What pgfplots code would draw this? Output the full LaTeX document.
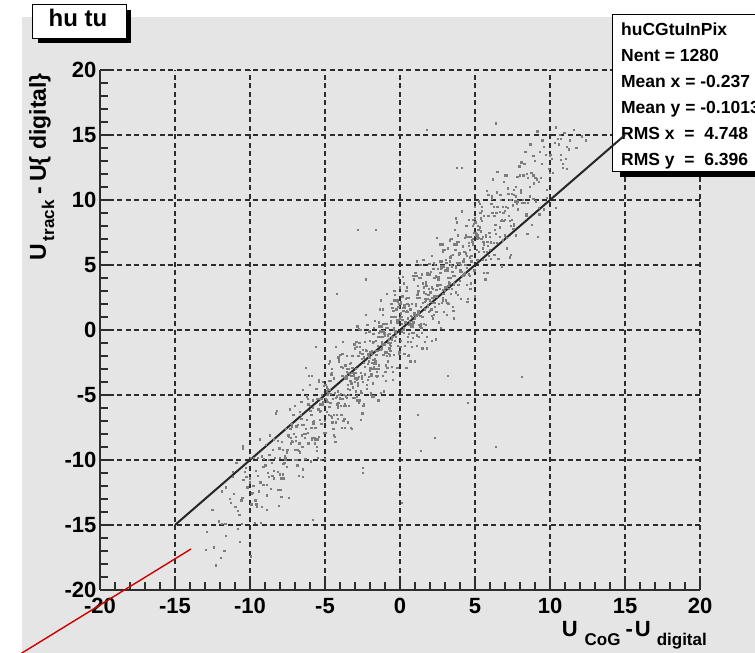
\documentclass[border=0pt]{standalone}
\usepackage{pgfplots}
\pgfplotsset{compat=1.18}
\usepackage{fontspec}
\setmainfont{Liberation Sans}
\definecolor{canvas}{RGB}{229,229,229}
\definecolor{gridc}{RGB}{45,45,45}
\definecolor{framec}{RGB}{45,45,45}
\definecolor{dotc}{RGB}{125,125,125}
\definecolor{annot}{RGB}{205,0,0}

\begin{document}
\begin{tikzpicture}
\useasboundingbox (0pt,0pt) rectangle (755pt,653pt);
\clip (0pt,0pt) rectangle (755pt,653pt);
\fill[white] (0pt,0pt) rectangle (755pt,653pt);
\fill[canvas] (22pt,0pt) rectangle (755pt,636pt);

\begin{axis}[
  at={(100pt,63pt)}, anchor=south west,
  scale only axis, width=600pt, height=520pt,
  xmin=-20, xmax=20, ymin=-20, ymax=20,
  axis x line*=bottom, axis y line*=left,
  clip=false,
  xtick={-20,-15,...,20}, ytick={-20,-15,...,20},
  xticklabels={-20,-15,-10,-5,0,5,10,15,20},
  yticklabels={-20,-15,-10,-5,0,5,10,15,20},
  minor tick num=4,
  tick align=inside,
  major tick length=14pt, minor tick length=8pt,
  tick style={framec, line width=1.1pt},
  axis line style={framec, line width=1.4pt},
  grid=major,
  major grid style={gridc, line width=1.2pt, dash pattern=on 5pt off 3.5pt},
  ticklabel style={font=\fontsize{22}{22}\selectfont\bfseries},
  xticklabel style={yshift=-5pt},
]

% hits: CoG residual vs track residual
\addplot[only marks, mark=square*, mark size=0.65pt, dotc, mark options={draw=none, fill=dotc}] coordinates {
(-12.88,-15.5) (-12.43,-16.7)
(-11.17,-11.3) (-11.66,-14.9) (-11.09,-12.6) (-11.95,-17.5)
(-10.34,-10.9) (-10.72,-14.2) (-10.53,-12.9) (-10.26,-11.3) (-10.81,-15.3) (-10.04,-11.7) (-10.59,-13.1)
(-9.37,-8.4) (-9.92,-13.4) (-9.48,-11.2) (-9.13,-11.9) (-9.77,-9.8) (-9.30,-14.8) (-9.62,-10.8) (-9.85,-12.5) (-9.21,-9.7) (-9.56,-13.6)
(-8.01,-9.8) (-8.69,-8.1) (-8.40,-11.4) (-8.98,-10.4) (-8.15,-12.3) (-8.51,-9.2) (-8.83,-11.0) (-8.27,-6.4) (-8.64,-12.2) (-8.06,-9.1) (-8.74,-11.3) (-8.42,-8.4) (-8.89,-13.8)
(-7.19,-8.6) (-7.55,-10.5) (-7.33,-7.6) (-7.79,-10.3) (-7.88,-8.6) (-7.43,-12.9) (-7.17,-6.5) (-7.66,-9.8) (-7.09,-8.0) (-7.95,-11.4) (-7.34,-6.1) (-7.72,-10.2) (-7.53,-9.2) (-7.26,-7.2) (-7.81,-9.2) (-7.04,-10.0)
(-6.59,-5.5) (-6.37,-8.3) (-6.92,-7.4) (-6.48,-10.7) (-6.13,-5.7) (-6.77,-9.3) (-6.30,-7.6) (-6.62,-6.8) (-6.85,-10.4) (-6.21,-6.9) (-6.56,-8.1) (-6.01,-4.2) (-6.69,-9.4) (-6.40,-7.3) (-6.98,-9.2) (-6.15,-5.3) (-6.51,-11.3) (-6.83,-7.3) (-6.27,-8.0) (-6.64,-6.5)
(-5.06,-7.9) (-5.74,-7.0) (-5.42,-4.0) (-5.89,-8.3) (-5.19,-5.7) (-5.55,-9.0) (-5.33,-5.3) (-5.79,-7.2) (-5.88,-3.5) (-5.43,-8.2) (-5.17,-5.5) (-5.66,-7.5) (-5.09,-4.3) (-5.95,-10.1) (-5.34,-6.3) (-5.72,-8.3) (-5.53,-5.3) (-5.26,-7.2) (-5.81,-6.0) (-5.04,-9.9) (-5.59,-4.5) (-5.37,-6.9) (-5.92,-6.5) (-5.48,-8.4)
(-4.13,-2.1) (-4.77,-6.5) (-4.30,-5.2) (-4.62,-3.9) (-4.85,-5.5) (-4.21,-6.5) (-4.56,-3.0) (-4.01,-5.3) (-4.69,-4.6) (-4.40,-8.1) (-4.98,-4.2) (-4.15,-6.0) (-4.51,-5.3) (-4.83,-4.5) (-4.27,-7.1) (-4.64,-4.9) (-4.06,-5.0) (-4.74,-2.6) (-4.42,-6.5) (-4.89,-5.4) (-4.19,-5.7) (-4.55,-3.3) (-4.33,-8.6) (-4.79,-4.8) (-4.88,-6.3) (-4.43,-3.7) (-4.17,-6.8) (-4.66,-5.6) (-4.09,-2.3)
(-3.95,-5.8) (-3.34,-3.4) (-3.72,-6.8) (-3.53,-3.0) (-3.26,-4.1) (-3.81,-0.9) (-3.04,-5.2) (-3.59,-3.5) (-3.37,-4.6) (-3.92,-2.8) (-3.48,-7.1) (-3.13,-3.5) (-3.77,-5.8) (-3.30,-2.5) (-3.62,-5.1) (-3.85,-3.5) (-3.21,-7.6) (-3.56,-2.0) (-3.01,-4.0) (-3.69,-3.7) (-3.40,-5.8) (-3.98,-1.9) (-3.15,-4.4) (-3.51,-4.2) (-3.83,-2.9) (-3.27,-3.5) (-3.64,-5.8) (-3.06,-1.1) (-3.74,-5.0) (-3.42,-3.0) (-3.89,-7.5) (-3.19,-2.0) (-3.55,-5.2) (-3.33,-3.9)
(-2.79,-2.0) (-2.88,-5.4) (-2.43,-2.1) (-2.17,-2.6) (-2.66,0.0) (-2.09,-3.6) (-2.95,-3.0) (-2.34,-3.4) (-2.72,-1.0) (-2.53,-6.4) (-2.26,-1.6) (-2.81,-3.7) (-2.04,-0.8) (-2.59,-4.8) (-2.37,-2.8) (-2.92,-0.9) (-2.48,-4.0) (-2.13,-1.9) (-2.77,-5.6) (-2.30,-1.5) (-2.62,-3.3) (-2.85,0.3) (-2.21,-4.2) (-2.56,-2.2) (-2.01,-2.9) (-2.69,-1.3) (-2.40,-5.7) (-2.98,-3.3) (-2.15,-3.8) (-2.51,-1.5) (-2.83,-4.1) (-2.27,-1.5) (-2.64,-6.9) (-2.06,-0.1) (-2.74,-3.6) (-2.42,-2.1) (-2.89,-5.1) (-2.19,0.4) (-2.55,-3.7)
(-1.33,-1.5) (-1.79,-0.3) (-1.88,-1.8) (-1.43,-3.0) (-1.17,1.2) (-1.66,-2.4) (-1.09,-0.1) (-1.95,-5.0) (-1.34,0.3) (-1.72,-3.0) (-1.53,-1.6) (-1.26,-0.1) (-1.81,-4.1) (-1.04,-0.4) (-1.59,-1.9) (-1.37,1.6) (-1.92,-3.4) (-1.48,-1.2) (-1.13,-1.9) (-1.77,0.2) (-1.30,-4.8) (-1.62,-0.8) (-1.85,-2.5) (-1.21,0.3) (-1.56,-3.6) (-1.01,-1.1) (-1.69,0.7) (-1.40,-2.7) (-1.98,-1.7) (-1.15,-3.5) (-1.51,-0.5) (-1.83,-2.3) (-1.27,2.3) (-1.64,-3.5) (-1.06,-0.3) (-1.74,-2.6) (-1.42,0.3) (-1.89,-5.1) (-1.19,-1.1) (-1.55,-3.0) (-1.36,-0.1) (-1.76,-2.8) (-1.84,-1.0) (-1.45,-5.4)
(-0.17,2.3) (-0.66,-1.0) (-0.09,0.8) (-0.95,-2.7) (-0.34,2.7) (-0.72,-1.4) (-0.53,-0.5) (-0.26,1.6) (-0.81,-0.4) (-0.04,-1.3) (-0.59,2.0) (-0.37,-0.8) (-0.92,0.2) (-0.48,-3.2) (-0.13,1.8) (-0.77,-1.8) (-0.30,-0.1) (-0.62,0.7) (-0.85,-2.9) (-0.21,0.6) (-0.56,-0.6) (-0.01,3.3) (-0.69,-1.9) (-0.40,0.2) (-0.98,-1.7) (-0.15,2.2) (-0.51,-3.8) (-0.83,0.2) (-0.27,-0.5) (-0.64,1.0) (-0.06,-1.7) (-0.74,-0.7) (-0.42,2.3) (-0.89,-2.0) (-0.19,0.6) (-0.55,-2.8) (-0.33,1.0) (-0.79,-1.0) (-0.88,2.8) (-0.43,-1.9) (-0.20,0.8) (-0.63,-1.2) (-0.11,2.0) (-0.97,-3.9) (-0.36,-0.1) (-0.70,-2.0) (-0.50,1.0)
(0.74,0.3) (0.19,1.5) (0.96,-2.4) (0.41,3.0) (0.63,0.6) (0.08,1.0) (0.52,-0.9) (0.87,4.2) (0.23,-0.2) (0.70,1.1) (0.38,2.4) (0.15,0.8) (0.79,-0.2) (0.44,3.3) (0.99,0.9) (0.31,1.7) (0.60,-1.9) (0.02,2.0) (0.85,0.3) (0.49,0.9) (0.17,1.7) (0.73,-0.9) (0.36,1.4) (0.94,1.3) (0.26,3.6) (0.58,-0.3) (0.11,0.8) (0.81,0.5) (0.45,3.0) (0.67,-2.4) (0.21,1.5) (0.12,-0.1) (0.57,2.5) (0.83,-0.6) (0.34,0.6) (0.91,3.9) (0.05,-0.8) (0.66,1.6) (0.28,-1.8) (0.47,2.0) (0.77,1.0) (0.16,4.1) (0.93,-0.2) (0.43,1.5) (0.61,0.4) (0.06,2.2) (0.55,-2.0)
(1.87,2.7) (1.23,0.4) (1.70,3.7) (1.38,1.1) (1.15,2.7) (1.79,-1.4) (1.44,4.3) (1.99,2.3) (1.31,2.5) (1.60,0.5) (1.02,4.4) (1.85,1.8) (1.49,2.1) (1.17,3.4) (1.73,2.8) (1.36,0.5) (1.94,5.1) (1.26,1.3) (1.58,3.3) (1.11,-1.2) (1.81,4.3) (1.45,1.0) (1.67,2.4) (1.21,3.0) (1.12,-0.4) (1.57,2.9) (1.83,2.4) (1.34,5.0) (1.91,1.4) (1.05,2.0) (1.66,1.6) (1.28,4.0) (1.47,-1.4) (1.74,3.4) (1.19,1.3) (1.96,4.3) (1.41,0.2) (1.63,2.2) (1.08,4.2) (1.52,1.0) (1.89,3.2) (1.25,-0.5) (1.72,3.6) (1.40,1.8) (1.13,5.3)
(2.79,2.1) (2.44,4.1) (2.99,3.3) (2.31,5.0) (2.60,0.6) (2.02,2.9) (2.85,2.5) (2.49,4.7) (2.17,2.1) (2.73,4.7) (2.36,-0.7) (2.94,6.2) (2.26,2.6) (2.58,4.1) (2.11,1.1) (2.81,6.6) (2.45,2.6) (2.67,3.5) (2.21,4.7) (2.12,3.3) (2.57,2.0) (2.83,6.2) (2.34,2.6) (2.91,4.9) (2.05,0.0) (2.66,5.3) (2.28,2.1) (2.47,3.4) (2.74,4.9) (2.19,0.9) (2.96,4.6) (2.41,3.1) (2.63,6.6) (2.08,1.6) (2.52,3.9) (2.87,3.1) (2.23,5.2) (2.70,0.2) (2.38,4.2) (2.15,2.5) (2.76,5.3) (2.42,1.4)
(3.99,5.2) (3.31,6.9) (3.60,3.6) (3.02,4.6) (3.85,2.7) (3.49,5.8) (3.17,4.0) (3.73,8.6) (3.36,2.8) (3.94,5.9) (3.26,3.7) (3.58,6.6) (3.11,1.2) (3.81,5.2) (3.45,3.2) (3.67,6.2) (3.21,3.4) (3.12,5.2) (3.57,0.9) (3.83,7.3) (3.34,4.0) (3.91,5.8) (3.05,2.3) (3.66,7.7) (3.28,3.6) (3.47,4.5) (3.74,6.6) (3.19,4.6) (3.96,3.8) (3.41,7.0) (3.63,4.2) (3.08,5.2) (3.52,1.8) (3.87,6.8) (3.23,3.2) (3.70,4.9) (3.38,5.7) (3.15,2.1)
(4.79,6.9) (4.44,5.7) (4.99,9.5) (4.31,4.4) (4.60,6.5) (4.02,4.5) (4.85,8.5) (4.49,2.4) (4.17,6.4) (4.73,5.7) (4.36,7.3) (4.94,4.6) (4.26,5.5) (4.58,8.5) (4.11,4.2) (4.81,6.8) (4.45,3.5) (4.67,7.2) (4.21,5.3) (4.12,9.1) (4.57,4.3) (4.83,7.0) (4.34,5.0) (4.91,8.2) (4.05,2.4) (4.66,6.2) (4.28,4.3) (4.47,7.2) (4.74,5.3) (4.19,6.5) (4.96,2.6) (4.41,8.0) (4.63,5.6)
(5.08,7.3) (5.52,5.4) (5.87,10.4) (5.23,6.0) (5.70,7.3) (5.38,8.6) (5.15,7.0) (5.79,6.0) (5.44,9.5) (5.99,7.2) (5.31,7.9) (5.60,4.4) (5.02,8.3) (5.85,6.5) (5.49,7.2) (5.17,8.0) (5.73,5.4) (5.36,7.6) (5.94,7.5) (5.26,9.9) (5.58,6.0) (5.11,7.1) (5.81,6.8) (5.45,9.2) (5.67,3.9) (5.21,7.7) (5.12,6.2) (5.57,8.8)
(6.83,6.9) (6.34,8.1) (6.91,11.4) (6.05,6.7) (6.66,9.1) (6.28,5.8) (6.47,9.5) (6.74,8.4) (6.19,11.6) (6.96,7.3) (6.41,9.0) (6.63,7.9) (6.08,9.7) (6.52,5.5) (6.87,9.0) (6.23,6.7) (6.70,10.0) (6.38,7.4) (6.15,9.0) (6.79,4.9) (6.44,10.6) (6.99,8.5) (6.31,8.8)
(7.60,8.0) (7.02,11.9) (7.85,9.3) (7.49,9.6) (7.17,10.9) (7.73,10.3) (7.36,8.0) (7.94,12.6) (7.26,8.8) (7.58,10.8) (7.11,6.3) (7.81,11.8) (7.45,8.5) (7.67,9.9) (7.21,10.5) (7.12,7.1) (7.57,10.4) (7.83,9.9)
(8.34,13.7) (8.91,10.1) (8.05,10.8) (8.66,10.3) (8.28,12.8) (8.47,7.4) (8.74,12.1) (8.19,10.0) (8.96,13.0) (8.41,8.9) (8.63,11.0) (8.08,12.9) (8.52,9.8) (8.87,11.9)
(9.23,9.4) (9.70,13.5) (9.38,11.7) (9.15,15.3) (9.79,10.8) (9.44,12.8) (9.99,12.1) (9.31,13.7) (9.60,9.3) (9.02,11.7)
(10.85,12.5) (10.49,14.7) (10.17,12.1) (10.73,14.7) (10.36,9.4) (10.94,15.2)
(11.26,13.9) (11.58,15.4) (11.11,12.4) (12.40,14.6)
(6.4,15.9) (1.8,15.4) (4.1,12.5) (3.8,12.5) (-2.8,7.7) (-1.6,7.7) (-4.2,2.8) (-2.3,3.9) (-5.1,6.2) (9.2,7.2) (7.3,5.6) (3.2,-3.5) (8.1,-3.6) (4.5,-5.6) (2.3,-8.3) (6.4,-9.0) (1.2,-6.5) (1.4,-9.3) (-2.5,-10.6) (-5.6,-1.3) (-6.3,-2.9) (-10.5,-9.1) (-12.3,-18.1) (-9.95,-17.4) (0.1,-13.3) (-5.8,-14.6) (-2.5,-11.0) (-11.9,-12.4) (-11.6,-12.1) (-10.5,-8.9) (11.6,15.4) (10.7,13.5) (10.3,14.4) (10.6,14.3) (11.1,14.1)
(-12.95,-16.9) (-12.52,-13.8) (-12.09,-14.7)
(-11.73,-17.0) (-11.36,-13.0) (-11.87,-14.9) (-11.14,-10.9) (-11.61,-15.8) (-11.28,-13.3)
(-10.98,-13.6) (-10.45,-11.5) (-10.69,-16.3) (-10.03,-11.4) (-10.82,-13.9) (-10.31,-10.6) (-10.56,-14.9) (-10.19,-12.1) (-10.92,-10.2)
(-9.41,-12.4) (-9.65,-13.1) (-9.07,-9.9) (-9.78,-12.0) (-9.24,-13.6) (-9.49,-9.8) (-9.88,-12.6) (-9.12,-10.5) (-9.58,-13.4) (-9.97,-9.8) (-9.33,-11.7) (-9.71,-14.8)
(-8.16,-8.5) (-8.54,-10.2) (-8.89,-11.9) (-8.22,-6.2) (-8.43,-10.8) (-8.76,-10.0) (-8.03,-11.1) (-8.95,-8.8) (-8.52,-11.2) (-8.09,-13.5) (-8.73,-9.6) (-8.36,-9.8) (-8.87,-12.7) (-8.14,-10.9)
(-7.61,-7.6) (-7.28,-8.7) (-7.98,-12.3) (-7.45,-8.1) (-7.69,-9.7) (-7.03,-5.8) (-7.82,-11.1) (-7.31,-8.3) (-7.56,-9.4) (-7.21,-7.4) (-7.92,-12.8) (-7.41,-8.2) (-7.65,-10.0) (-7.07,-6.5) (-7.78,-11.4) (-7.24,-8.5)
(-6.49,-4.6) (-6.86,-9.2) (-6.12,-8.7) (-6.58,-6.8) (-6.97,-8.5) (-6.33,-9.9) (-6.71,-6.3) (-6.16,-7.9) (-6.54,-7.3) (-6.89,-10.0) (-6.22,-5.1) (-6.43,-8.0) (-6.76,-11.2) (-6.03,-5.8) (-6.95,-8.2) (-6.52,-9.0) (-6.09,-3.5) (-6.73,-8.7)
(-5.36,-5.7) (-5.87,-8.4) (-5.14,-4.0) (-5.61,-7.5) (-5.28,-10.0) (-5.98,-6.2) (-5.45,-6.1) (-5.69,-8.7) (-5.03,-7.0) (-5.82,-5.4) (-5.31,-6.2) (-5.56,-9.3) (-5.21,-5.3) (-5.93,-7.5) (-5.41,-3.8) (-5.65,-8.4) (-5.07,-5.5) (-5.78,-7.1) (-5.24,-5.0) (-5.49,-9.8)
(-4.86,-5.0) (-4.12,-5.6) (-4.58,-3.4) (-4.97,-7.9) (-4.34,-4.8) (-4.71,-2.4) (-4.16,-5.8) (-4.54,-6.7) (-4.90,-4.7) (-4.22,-5.1) (-4.45,-7.6) (-4.76,-3.9) (-4.03,-5.2) (-4.95,-5.3) (-4.52,-7.1) (-4.08,-2.4) (-4.73,-5.9) (-4.36,-8.2) (-4.87,-4.4) (-4.14,-4.7) (-4.61,-6.6) (-4.28,-1.3)
(-3.97,-5.3) (-3.45,-3.3) (-3.68,-5.7) (-3.03,-1.4) (-3.82,-5.3) (-3.31,-7.5) (-3.57,-3.2) (-3.18,-3.3) (-3.93,-6.5) (-3.41,-5.0) (-3.65,-2.7) (-3.07,-3.4) (-3.78,-7.0) (-3.24,-2.9) (-3.49,-4.5) (-3.86,-1.8) (-3.12,-5.2) (-3.58,-3.7) (-3.96,-4.9) (-3.35,-2.6) (-3.71,-7.5) (-3.16,-2.9)
(-2.54,-3.6) (-2.90,-1.3) (-2.22,-4.5) (-2.44,-2.5) (-2.76,0.1) (-2.03,-3.1) (-2.96,-4.7) (-2.52,-1.8) (-2.10,-2.4) (-2.73,-5.4) (-2.36,-0.9) (-2.87,-3.8) (-2.14,-1.8) (-2.61,-4.7) (-2.28,-0.2) (-2.99,-3.7) (-2.45,-5.8) (-2.68,-1.7) (-2.05,-2.1) (-2.82,-4.3) (-2.31,1.2) (-2.57,-3.5)
(-1.18,-0.5) (-1.93,-3.5) (-1.41,0.6) (-1.65,-2.6) (-1.07,-4.7) (-1.78,-0.9) (-1.24,-0.9) (-1.49,-3.5) (-1.86,-3.0) (-1.12,0.5) (-1.58,-1.6) (-1.97,-4.8) (-1.32,-0.5) (-1.71,-2.2) (-1.16,1.6) (-1.54,-3.2) (-1.90,-1.6) (-1.22,-1.4) (-1.44,-0.2) (-1.75,-5.1) (-1.02,-0.2) (-1.96,-2.9)
(-0.52,1.7) (-0.08,-1.8) (-0.73,-0.3) (-0.38,3.0) (-0.87,-1.7) (-0.14,-1.2) (-0.61,0.6) (-0.28,-0.2) (-0.99,-3.2) (-0.45,1.5) (-0.68,-1.1) (-0.03,0.9) (-0.82,-2.4) (-0.31,2.3) (-0.57,-0.7) (-0.18,-2.9) (-0.93,0.5) (-0.41,0.0) (-0.65,-1.6) (-0.07,4.0)
(0.22,0.0) (0.76,2.0) (0.51,-0.5) (0.14,2.6) (0.88,0.6) (0.42,-2.9) (0.03,1.3) (0.68,1.6) (0.29,-1.2) (0.84,0.4) (0.46,2.5) (0.10,0.5) (0.78,-1.3) (0.56,1.9) (0.24,0.2) (0.98,4.2) (0.04,-1.3) (0.48,1.4) (0.90,1.2) (0.27,1.9)
(1.64,-0.9) (1.14,2.5) (1.86,1.9) (1.39,4.0) (1.71,0.4) (1.03,1.9) (1.55,5.4) (1.32,1.1) (1.97,1.5) (1.18,2.9) (1.69,2.3) (1.43,-0.2) (1.82,4.4) (1.07,1.1) (1.59,2.9) (1.35,0.3) (1.93,5.1) (1.22,1.5) (1.76,-0.5) (1.51,3.6)
(2.16,3.2) (2.88,2.8) (2.43,7.1) (2.03,2.2) (2.68,4.4) (2.29,1.8) (2.84,6.0) (2.46,2.6) (2.10,-0.8) (2.78,4.8) (2.56,3.9) (2.24,1.2) (2.98,3.0) (2.06,4.5) (2.48,3.5) (2.92,1.4) (2.27,4.0) (2.64,3.2) (2.13,5.7) (2.86,2.3)
(3.39,5.0) (3.72,4.8) (3.03,5.4) (3.55,1.5) (3.32,5.3) (3.97,4.6) (3.18,6.3) (3.69,2.9) (3.44,4.9) (3.80,8.3) (3.09,3.3) (3.59,3.5) (3.35,5.6) (3.93,5.1) (3.22,2.0) (3.76,6.8) (3.51,4.2) (3.14,4.8) (3.88,3.5) (3.42,7.0)
(4.03,5.0) (4.68,3.2) (4.29,7.1) (4.84,6.6) (4.46,4.8) (4.10,9.2) (4.78,5.7) (4.56,6.7) (4.24,4.2) (4.98,8.6) (4.06,4.6) (4.48,2.2) (4.92,7.5) (4.27,6.0) (4.64,4.2) (4.13,4.5) (4.86,8.0) (4.39,5.9) (4.72,3.6)
(5.03,7.5) (5.55,6.8) (5.32,9.7) (5.97,6.2) (5.18,7.3) (5.69,7.2) (5.43,8.4) (5.82,4.4) (5.07,7.4) (5.59,6.6) (5.35,9.0) (5.93,5.7) (5.22,7.1) (5.76,10.7) (5.51,6.3) (5.14,5.4) (5.88,8.8) (5.42,7.0)
(6.03,5.5) (6.67,10.4) (6.29,7.7) (6.84,9.5) (6.46,6.7) (6.11,10.3) (6.78,8.5) (6.57,5.5) (6.24,9.5) (6.98,9.2) (6.06,6.8) (6.48,12.2) (6.92,8.4) (6.27,8.8) (6.64,7.2) (6.13,10.1)
(7.86,9.3) (7.39,5.8) (7.72,11.0) (7.03,9.5) (7.55,7.8) (7.31,8.4) (7.97,11.9) (7.18,9.4) (7.69,7.3) (7.44,10.5) (7.80,9.7) (7.08,11.9) (7.59,8.2) (7.35,10.0)
(8.93,11.3) (8.22,11.9) (8.76,8.1) (8.51,11.7) (8.15,9.8) (8.88,13.4) (8.42,8.8) (8.03,10.6) (8.67,14.3) (8.29,9.8) (8.84,10.1) (8.46,12.0)
(9.11,11.6) (9.78,10.2) (9.57,14.1) (9.24,11.4) (9.97,13.4) (9.05,9.9) (9.48,14.6) (9.91,12.4) (9.27,8.9)
(10.64,15.0) (10.13,13.2) (10.86,12.8) (10.39,15.6) (10.72,13.1) (10.02,13.5)
(11.32,14.6) (11.74,14.0) (11.05,13.2) (12.10,14.9)
};

% statistics box
\fill[black] (axis cs:14.67,11.77) rectangle (axis cs:25,23.8);
\filldraw[fill=white, draw=black, line width=0.9pt] (axis cs:14.133,12.231) rectangle (axis cs:25,24.308);
\begin{scope}[every node/.style={anchor=base west, inner sep=0pt, font=\fontsize{17.5}{17.5}\selectfont\bfseries}]
\node at (axis cs:14.73,22.69) {huCGtuInPix};
\node at (axis cs:14.73,20.69) {Nent = 1280};
\node at (axis cs:14.73,18.69) {Mean x = -0.237};
\node at (axis cs:14.73,16.69) {Mean y = -0.1013};
\node at (axis cs:14.73,14.69) {RMS x \ = \ 4.748};
\node at (axis cs:14.73,12.69) {RMS y \ = \ 6.396};
\end{scope}

% unit-slope reference line
\addplot[black!85, line width=2pt] coordinates {(-15,-15) (15,15)};
\end{axis}

% title box
\fill[black] (38pt,610pt) rectangle (131pt,643pt);
\filldraw[fill=white, draw=black, line width=0.9pt] (32pt,615pt) rectangle (126pt,649pt);
\node[anchor=base, inner sep=0pt, font=\fontsize{24}{24}\selectfont\bfseries] at (78pt,626pt) {hu tu};

% axis titles
\node[rotate=90, anchor=base east, inner sep=0pt, font=\fontsize{23}{23}\selectfont\bfseries] at (46pt,580pt)
  {U\hspace{3pt}\raisebox{-8pt}{\fontsize{17}{17}\selectfont track}\hspace{6pt}-\hspace{5pt}U\{ digital\}};
\node[anchor=base east, inner sep=0pt, font=\fontsize{22}{22}\selectfont\bfseries] at (707pt,16pt)
  {U\hspace{7pt}\raisebox{-8pt}{\fontsize{17}{17}\selectfont CoG}\hspace{5pt}-\hspace{2pt}U\hspace{6pt}\raisebox{-8pt}{\fontsize{17}{17}\selectfont digital}};

% red marker stroke
\draw[annot, line width=1.4pt] (10.6pt,-7pt) -- (191pt,104pt);
\end{tikzpicture}
\end{document}
